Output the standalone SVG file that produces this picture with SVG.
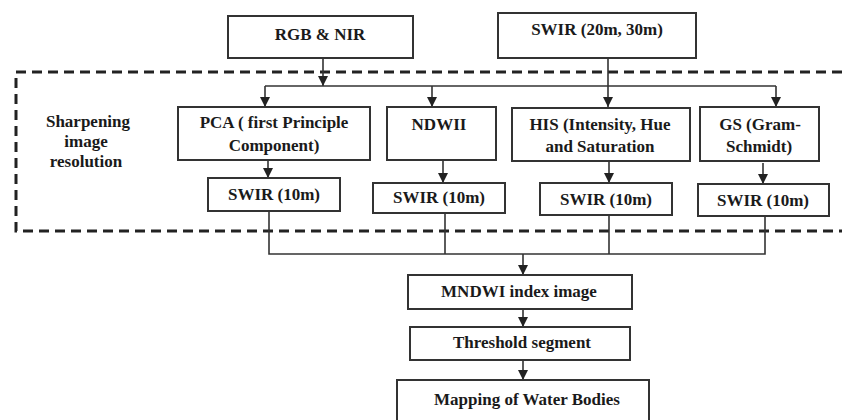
<svg xmlns="http://www.w3.org/2000/svg" width="842" height="420" viewBox="0 0 842 420">
<style>
.box{fill:#fff;stroke:#333;stroke-width:2}
.t{font-family:'Liberation Serif','DejaVu Serif',serif;font-weight:700;font-size:17px;fill:#1a1a1a;text-anchor:middle}
.c{fill:none;stroke:#333;stroke-width:1.6}
.dash{fill:none;stroke:#222;stroke-width:3;stroke-dasharray:10,6}
</style>
<defs>
<marker id="ah" viewBox="0 0 10 10" refX="10" refY="5" markerWidth="10" markerHeight="10" markerUnits="userSpaceOnUse" orient="auto">
<path d="M0,0 L10,5 L0,10 Z" fill="#222"/>
</marker>
</defs>
<rect width="842" height="420" fill="#fff"/>
<path class="dash" d="M842,72 H16 V231 H842"/>
<text class="t" x="88" y="127">Sharpening</text>
<text class="t" x="86" y="147">image</text>
<text class="t" x="86" y="167">resolution</text>

<g id="connectors">
<line class="c" x1="323" y1="58" x2="323" y2="86" marker-end="url(#ah)"/>
<line class="c" x1="265" y1="86" x2="776" y2="86"/>
<line class="c" x1="265" y1="86" x2="265" y2="107" marker-end="url(#ah)"/>
<line class="c" x1="432" y1="86" x2="432" y2="107" marker-end="url(#ah)"/>
<line class="c" x1="776" y1="86" x2="776" y2="107" marker-end="url(#ah)"/>
<line class="c" x1="608" y1="58" x2="608" y2="107" marker-end="url(#ah)"/>
<line class="c" x1="268" y1="160" x2="268" y2="178" marker-end="url(#ah)"/>
<line class="c" x1="443" y1="160" x2="443" y2="183" marker-end="url(#ah)"/>
<line class="c" x1="609" y1="161" x2="609" y2="183" marker-end="url(#ah)"/>
<line class="c" x1="763" y1="163" x2="763" y2="184" marker-end="url(#ah)"/>
<polyline class="c" points="269,211 269,254 765,254 765,216"/>
<line class="c" x1="445" y1="213" x2="445" y2="254"/>
<line class="c" x1="609" y1="215" x2="609" y2="254"/>
<line class="c" x1="523" y1="254" x2="523" y2="275" marker-end="url(#ah)"/>
<line class="c" x1="523" y1="309" x2="523" y2="327" marker-end="url(#ah)"/>
<line class="c" x1="523" y1="360" x2="523" y2="380" marker-end="url(#ah)"/>
</g>

<g id="rgb"><rect class="box" x="228" y="16" width="185" height="42"/><text class="t" x="320" y="40">RGB &amp; NIR</text></g>
<g id="swir-in"><rect class="box" x="498" y="13" width="198" height="45"/><text class="t" x="597" y="35">SWIR (20m, 30m)</text></g>

<g id="pca"><rect class="box" x="178" y="107" width="192" height="53"/><text class="t" x="274" y="128">PCA ( first Principle</text><text class="t" x="274" y="151">Component)</text></g>
<g id="ndwii"><rect class="box" x="387" y="107" width="109" height="53"/><text class="t" x="439" y="130">NDWII</text></g>
<g id="his"><rect class="box" x="512" y="108" width="178" height="53"/><text class="t" x="600" y="130">HIS (Intensity, Hue</text><text class="t" x="600" y="152">and Saturation</text></g>
<g id="gs"><rect class="box" x="700" y="107" width="119" height="54"/><text class="t" x="760" y="130">GS (Gram-</text><text class="t" x="759" y="152">Schmidt)</text></g>

<g id="swir1"><rect class="box" x="208" y="178" width="132" height="33"/><text class="t" x="274" y="200">SWIR (10m)</text></g>
<g id="swir2"><rect class="box" x="373" y="183" width="132" height="30"/><text class="t" x="439" y="203">SWIR (10m)</text></g>
<g id="swir3"><rect class="box" x="540" y="183" width="132" height="32"/><text class="t" x="606" y="205">SWIR (10m)</text></g>
<g id="swir4"><rect class="box" x="698" y="184" width="131" height="32"/><text class="t" x="763" y="206">SWIR (10m)</text></g>

<g id="mndwi"><rect class="box" x="408" y="275" width="224" height="34"/><text class="t" x="519" y="297">MNDWI index image</text></g>
<g id="threshold"><rect class="box" x="410" y="327" width="220" height="33"/><text class="t" x="522" y="348">Threshold segment</text></g>
<g id="mapping"><rect class="box" x="397" y="380" width="252" height="50"/><text class="t" x="527" y="405">Mapping of Water Bodies</text></g>
</svg>
